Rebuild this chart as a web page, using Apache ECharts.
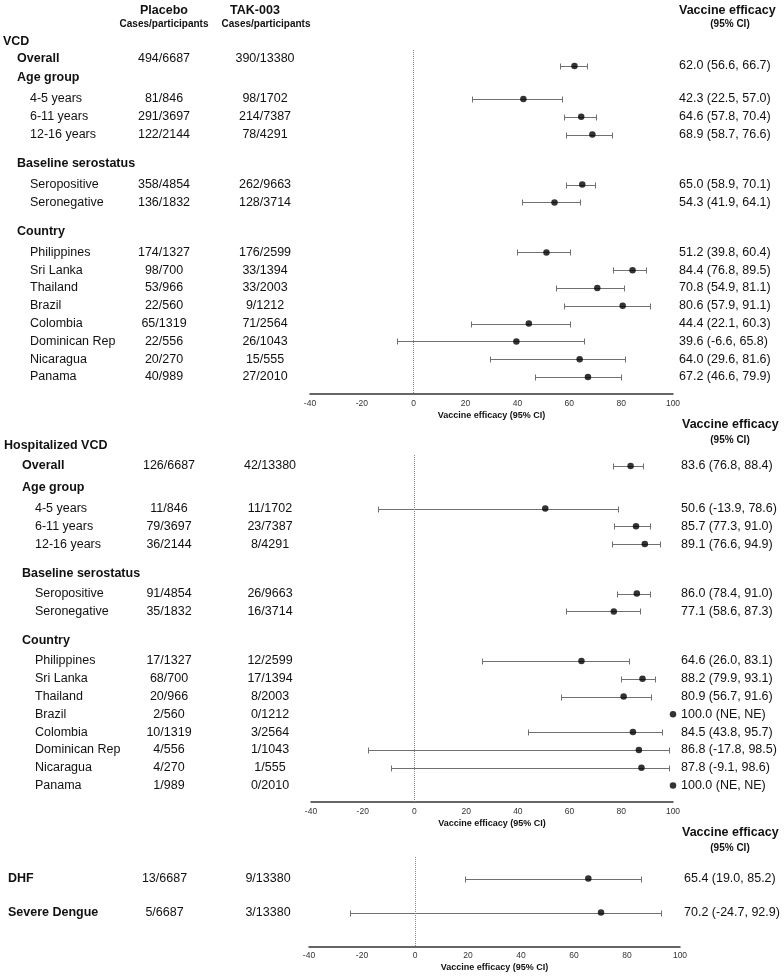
<!DOCTYPE html>
<html><head><meta charset="utf-8">
<script src="https://cdn.jsdelivr.net/npm/echarts@6/dist/echarts.min.js"></script>
<style>html,body{margin:0;padding:0;background:#fff}#c{width:784px;height:977px}</style>
</head><body><div id="c"></div>
<script>
// ---------------- DATA ----------------
const subgroupLabels = ['Overall', 'Age group', '4-5 years', '6-11 years', '12-16 years',
  'Baseline serostatus', 'Seropositive', 'Seronegative', 'Country', 'Philippines', 'Sri Lanka',
  'Thailand', 'Brazil', 'Colombia', 'Dominican Rep', 'Nicaragua', 'Panama'];
const subgroupKinds = ['sub', 'sub', 'item', 'item', 'item', 'sub', 'item', 'item', 'sub',
  'item', 'item', 'item', 'item', 'item', 'item', 'item', 'item'];

const vcdPlacebo = ['494/6687', null, '81/846', '291/3697', '122/2144', null, '358/4854', '136/1832', null,
  '174/1327', '98/700', '53/966', '22/560', '65/1319', '22/556', '20/270', '40/989'];
const vcdTak = ['390/13380', null, '98/1702', '214/7387', '78/4291', null, '262/9663', '128/3714', null,
  '176/2599', '33/1394', '33/2003', '9/1212', '71/2564', '26/1043', '15/555', '27/2010'];
const vcdVE = [62.0, null, 42.3, 64.6, 68.9, null, 65.0, 54.3, null, 51.2, 84.4, 70.8, 80.6, 44.4, 39.6, 64.0, 67.2];
const vcdLo = [56.6, null, 22.5, 57.8, 58.7, null, 58.9, 41.9, null, 39.8, 76.8, 54.9, 57.9, 22.1, -6.6, 29.6, 46.6];
const vcdHi = [66.7, null, 57.0, 70.4, 76.6, null, 70.1, 64.1, null, 60.4, 89.5, 81.1, 91.1, 60.3, 65.8, 81.6, 79.9];

const hospPlacebo = ['126/6687', null, '11/846', '79/3697', '36/2144', null, '91/4854', '35/1832', null,
  '17/1327', '68/700', '20/966', '2/560', '10/1319', '4/556', '4/270', '1/989'];
const hospTak = ['42/13380', null, '11/1702', '23/7387', '8/4291', null, '26/9663', '16/3714', null,
  '12/2599', '17/1394', '8/2003', '0/1212', '3/2564', '1/1043', '1/555', '0/2010'];
const hospVE = [83.6, null, 50.6, 85.7, 89.1, null, 86.0, 77.1, null, 64.6, 88.2, 80.9, 100.0, 84.5, 86.8, 87.8, 100.0];
const hospLo = [76.8, null, -13.9, 77.3, 76.6, null, 78.4, 58.6, null, 26.0, 79.9, 56.7, null, 43.8, -17.8, -9.1, null];
const hospHi = [88.4, null, 78.6, 91.0, 94.9, null, 91.0, 87.3, null, 83.1, 93.1, 91.6, null, 95.7, 98.5, 98.6, null];

const sevLabels = ['DHF', 'Severe Dengue'];
const sevPlacebo = ['13/6687', '5/6687'];
const sevTak = ['9/13380', '3/13380'];
const sevVE = [65.4, 70.2];
const sevLo = [19.0, -24.7];
const sevHi = [85.2, 92.9];

const xTicks = { min: -40, max: 100, interval: 20 };

// ---------------- LAYOUT ----------------
const FONT = '"Liberation Sans", Arial, Helvetica, sans-serif';
const TXT = '#111';
const WHISK = '#707070';

function buildRows(title, labels, kinds, pl, tk, ve, lo, hi) {
  const rows = [];
  if (title) rows.push({ label: title, kind: 'title' });
  labels.forEach((l, i) => rows.push({ label: l, kind: kinds[i], placebo: pl[i], tak: tk[i], ve: ve[i], lo: lo[i], hi: hi[i] }));
  return rows;
}
function place(rows, gaps) {
  let p = 0;
  rows.forEach((r, i) => {
    if (i > 0) {
      const a = rows[i - 1].kind, b = r.kind;
      let g;
      if (a === 'title' && b === 'sub') g = gaps.ts;
      else if (a === 'sub' && b === 'sub') g = gaps.ss;
      else if (a === 'sub' && b === 'item') g = gaps.si;
      else if (a === 'item' && b === 'sub') g = gaps.is;
      else g = gaps.ii;
      p += g;
    }
    r.pos = p;
    r.markPos = p + (i === gaps.offRow ? gaps.off : 0);
  });
  return rows;
}

const panels = [
  {
    rows: place(buildRows('VCD', subgroupLabels, subgroupKinds, vcdPlacebo, vcdTak, vcdVE, vcdLo, vcdHi),
      { ts: 17.5, ss: 19, si: 21, ii: 17.8, is: 29, offRow: 1, off: 7 }),
    row0: 41.5, dotTop: 50, axisY: 394, left: 310, right: 673,
    cols: { title: 3, sub: 17, item: 30, placebo: 164, tak: 265, ve: 679 }
  },
  {
    rows: place(buildRows('Hospitalized VCD', subgroupLabels, subgroupKinds, hospPlacebo, hospTak, hospVE, hospLo, hospHi),
      { ts: 20, ss: 22, si: 20.5, ii: 17.8, is: 29, offRow: 1, off: 0 }),
    row0: 446, dotTop: 455, axisY: 802, left: 311, right: 673,
    cols: { title: 4, sub: 22, item: 35, placebo: 169, tak: 270, ve: 681 }
  },
  {
    rows: place(buildRows(null, sevLabels, ['title', 'title'], sevPlacebo, sevTak, sevVE, sevLo, sevHi),
      { ts: 34, ss: 34, si: 34, ii: 34, is: 34, offRow: -1, off: 0 }),
    row0: 878.5, dotTop: 857, axisY: 946.5, left: 309, right: 680,
    cols: { title: 8, sub: 8, item: 8, placebo: 164.5, tak: 268, ve: 684 }
  }
];

function fmt(v) { return v.toFixed(1); }
function veText(r) {
  if (r.lo == null) return fmt(r.ve) + ' (NE, NE)';
  return fmt(r.ve) + ' (' + fmt(r.lo) + ', ' + fmt(r.hi) + ')';
}
function txt(x, y, s, weight, align, size) {
  return {
    type: 'text',
    style: { x: x, y: y, text: s, fill: TXT, align: align, verticalAlign: 'middle',
      font: (weight === 'bold' ? 'bold ' : '') + (size || 12.5) + 'px ' + FONT }
  };
}

const grid = [], xAxis = [], yAxis = [], series = [];
panels.forEach((P, pi) => {
  const yMin = P.dotTop - P.row0, yMax = P.axisY - P.row0;
  grid.push({ left: P.left, top: P.dotTop, width: P.right - P.left, height: P.axisY - P.dotTop, containLabel: false });
  xAxis.push({
    gridIndex: pi, type: 'value', min: xTicks.min, max: xTicks.max, interval: xTicks.interval,
    axisLine: { show: true, onZero: false, lineStyle: { color: '#333', width: 1.5 } },
    axisTick: { show: false }, splitLine: { show: false },
    axisLabel: { fontSize: 8.5, color: '#333', margin: 5, fontFamily: FONT },
    name: 'Vaccine efficacy (95% CI)', nameLocation: 'middle', nameGap: 17,
    nameTextStyle: { fontSize: 9, fontWeight: 'bold', color: '#111', fontFamily: FONT }
  });
  yAxis.push({ gridIndex: pi, type: 'value', inverse: true, min: yMin, max: yMax, show: false });

  const rows = P.rows, cols = P.cols;
  series.push({
    type: 'custom', xAxisIndex: pi, yAxisIndex: pi, clip: false, silent: true, z: 5,
    data: rows.map(r => [0, r.pos, r.markPos]),
    renderItem(params, api) {
      const r = rows[params.dataIndex];
      const y = api.coord([0, api.value(1)])[1];
      const ym = api.coord([0, api.value(2)])[1];
      const ch = [];
      const lx = r.kind === 'title' ? cols.title : r.kind === 'sub' ? cols.sub : cols.item;
      ch.push(txt(lx, y, r.label, r.kind === 'item' ? 'normal' : 'bold', 'left'));
      if (r.placebo) ch.push(txt(cols.placebo, y, r.placebo, 'normal', 'center'));
      if (r.tak) ch.push(txt(cols.tak, y, r.tak, 'normal', 'center'));
      if (r.ve != null) ch.push(txt(cols.ve, ym, veText(r), 'normal', 'left'));
      return { type: 'group', children: ch };
    }
  });
  const wr = rows.filter(r => r.lo != null);
  series.push({
    type: 'custom', xAxisIndex: pi, yAxisIndex: pi, clip: false, silent: true, z: 3,
    data: wr.map(r => [r.lo, r.hi, r.markPos]),
    renderItem(params, api) {
      const a = api.coord([api.value(0), api.value(2)]);
      const b = api.coord([api.value(1), api.value(2)]);
      const y = Math.round(a[1]) + 0.5, h = 3;
      const st = { stroke: WHISK, lineWidth: 1 };
      const ax = Math.round(a[0]) + 0.5, bx = Math.round(b[0]) + 0.5;
      return { type: 'group', children: [
        { type: 'line', shape: { x1: ax, y1: y, x2: bx, y2: y }, style: st },
        { type: 'line', shape: { x1: ax, y1: y - h, x2: ax, y2: y + h }, style: st },
        { type: 'line', shape: { x1: bx, y1: y - h, x2: bx, y2: y + h }, style: st }
      ] };
    }
  });
  series.push({
    type: 'scatter', xAxisIndex: pi, yAxisIndex: pi, clip: false, silent: true, z: 4,
    symbol: 'circle', symbolSize: 6.5, itemStyle: { color: '#000' },
    data: rows.filter(r => r.ve != null).map(r => [r.ve, r.markPos]),
    markLine: {
      silent: true, symbol: 'none', label: { show: false },
      lineStyle: { type: 'dotted', color: '#888', width: 1 },
      data: [{ xAxis: 0 }]
    }
  });
});

const headers = [
  { x: 164, y: 11, t: 'Placebo', s: 12.5, a: 'center' },
  { x: 164, y: 24, t: 'Cases/participants', s: 10, a: 'center' },
  { x: 255, y: 11, t: 'TAK-003', s: 12.5, a: 'center' },
  { x: 266, y: 24, t: 'Cases/participants', s: 10, a: 'center' },
  { x: 679, y: 11, t: 'Vaccine efficacy', s: 12.5, a: 'left' },
  { x: 730, y: 24, t: '(95% CI)', s: 10, a: 'center' },
  { x: 682, y: 425, t: 'Vaccine efficacy', s: 12.5, a: 'left' },
  { x: 730, y: 440, t: '(95% CI)', s: 10, a: 'center' },
  { x: 682, y: 833, t: 'Vaccine efficacy', s: 12.5, a: 'left' },
  { x: 730, y: 848, t: '(95% CI)', s: 10, a: 'center' }
];

const chart = echarts.init(document.getElementById('c'), null, { renderer: 'canvas' });
chart.setOption({
  animation: false,
  backgroundColor: '#fff',
  grid, xAxis, yAxis, series,
  graphic: headers.map(h => ({
    type: 'text', x: h.x, y: h.y, silent: true,
    style: { text: h.t, fill: TXT, align: h.a, verticalAlign: 'middle', font: 'bold ' + h.s + 'px ' + FONT }
  }))
});
</script></body></html>
